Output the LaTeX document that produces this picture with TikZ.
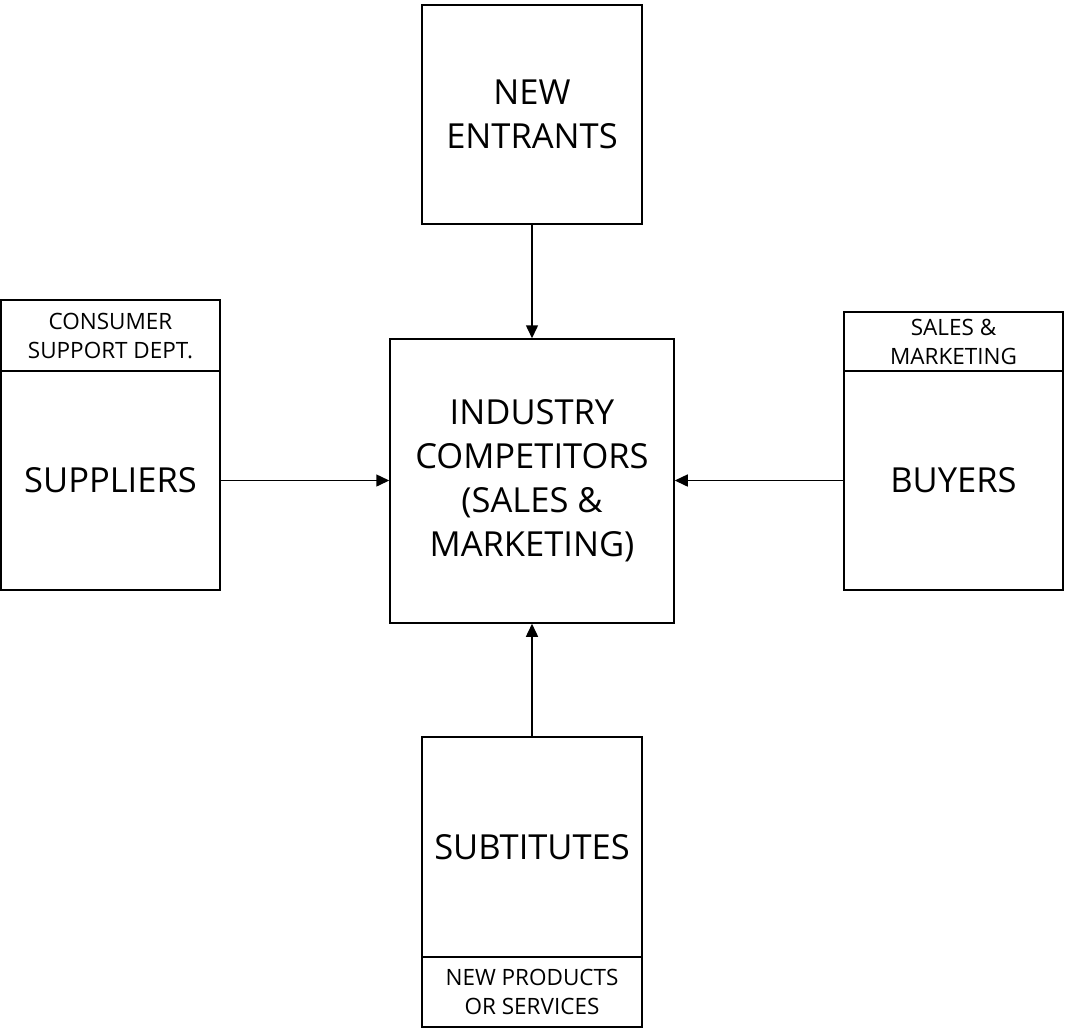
\documentclass[tikz,border=0pt]{standalone}
\usepackage{fontspec}
\setmainfont{Open Sans}
\usetikzlibrary{arrows.meta}
\begin{document}
\begin{tikzpicture}[x=1pt,y=-1pt,
  bigbox/.style={draw, line width=1.5pt, inner sep=0pt, align=center,
    font=\fontsize{34.5}{44}\selectfont},
  lblbox/.style={draw, line width=1.5pt, inner sep=0pt, align=center,
    font=\fontsize{22.5}{29}\selectfont},
  conn/.style={line width=1.5pt, -{Triangle[length=13pt,width=12pt]}}]
\useasboundingbox (0,0) rectangle (1067,1029);
\node[bigbox, minimum width=220pt, minimum height=219pt] (ne) at (532,114.5) {NEW\\ENTRANTS};
\node[bigbox, minimum width=284pt, minimum height=284pt] (ind) at (532,481) {INDUSTRY\\COMPETITORS\\(SALES \&\\MARKETING)};
\node[lblbox, minimum width=219pt, minimum height=71pt] (supl) at (110.5,335.5) {CONSUMER\\SUPPORT DEPT.};
\node[bigbox, minimum width=219pt, minimum height=219pt] (sup) at (110.5,480.5) {SUPPLIERS};
\node[lblbox, minimum width=219pt, minimum height=59pt] (buyl) at (953.5,341.5) {SALES \&\\MARKETING};
\node[bigbox, minimum width=219pt, minimum height=219pt] (buy) at (953.5,480.5) {BUYERS};
\node[bigbox, minimum width=220pt, minimum height=220pt] (sub) at (532,847) {SUBTITUTES};
\node[lblbox, minimum width=220pt, minimum height=70pt] (subl) at (532,992) {NEW PRODUCTS\\OR SERVICES};
\draw[conn] (ne.south) -- (ind.north);
\draw[conn] (sup.east) -- (sup.east -| ind.west);
\draw[conn] (buy.west) -- (buy.west -| ind.east);
\draw[conn] (sub.north) -- (ind.south);
\end{tikzpicture}
\end{document}
